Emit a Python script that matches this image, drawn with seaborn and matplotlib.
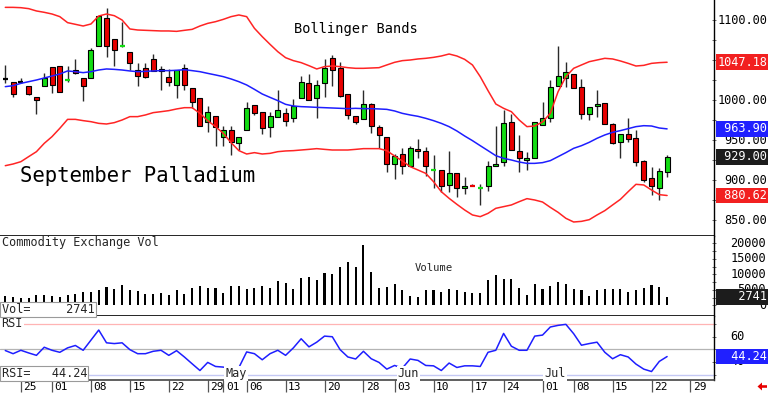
import numpy as np
import pandas as pd
import matplotlib
matplotlib.use("Agg")
import matplotlib.pyplot as plt
import matplotlib.transforms as mtransforms
from matplotlib.patches import Polygon
import seaborn as sns

# ---------------- data ----------------
holidays = ["2024-03-29", "2024-05-27", "2024-06-19", "2024-07-04"]
calendar = pd.bdate_range("2024-03-21", "2024-07-31", freq="C", holidays=holidays)

open_ = [1026, 1022, 1023, 1017, 1004, 1018, 1041, 1042, 1024, 1037,
         1027, 1027, 1068, 1102, 1076, 1066, 1060, 1037, 1040, 1051,
         1036, 1029, 1019, 1040, 1015, 1002, 973, 980, 954, 962,
         946, 962, 994, 985, 966, 979, 984, 978, 1003, 1021,
         1003, 1021, 1053, 1040, 1007, 980, 976, 995, 966, 954,
         920, 933, 917, 939, 936, 912, 912, 894, 909, 890,
         894, 889, 893, 917, 922, 973, 936, 925, 928, 969,
         978, 1017, 1027, 1033, 1016, 982, 992, 996, 970, 947,
         957, 952, 924, 902, 890, 910]
high = [1044, 1023, 1027, 1018, 1004, 1034, 1041, 1043, 1042, 1051,
        1027, 1065, 1105, 1115, 1076, 1097, 1060, 1046, 1046, 1058,
        1042, 1039, 1037, 1045, 1015, 1002, 992, 980, 967, 967,
        954, 997, 994, 985, 985, 1012, 990, 1001, 1030, 1032,
        1025, 1051, 1056, 1048, 1007, 980, 1013, 996, 969, 954,
        933, 940, 943, 951, 941, 931, 912, 936, 909, 904,
        895, 895, 924, 967, 987, 983, 956, 935, 973, 997,
        1025, 1068, 1047, 1033, 1026, 991, 1013, 996, 971, 957,
        978, 962, 925, 916, 915, 931]
low = [1021, 1004, 1021, 1006, 982, 1018, 1009, 1010, 1023, 1033,
       999, 1027, 1068, 1054, 1042, 1066, 1037, 1017, 1028, 1036,
       1012, 1017, 1002, 1013, 990, 967, 960, 943, 943, 931,
       937, 962, 981, 958, 954, 979, 967, 973, 1003, 1000,
       978, 1004, 1017, 1004, 976, 970, 976, 959, 940, 910,
       901, 908, 917, 927, 905, 890, 885, 885, 879, 882,
       892, 869, 886, 917, 917, 937, 910, 912, 927, 969,
       972, 1017, 1016, 1015, 976, 975, 979, 970, 945, 928,
       947, 918, 898, 881, 875, 904]
close = [1026, 1007, 1023, 1007, 1000, 1028, 1019, 1010, 1025, 1034,
         1018, 1062, 1105, 1067, 1062, 1067, 1046, 1030, 1029, 1036,
         1039, 1023, 1037, 1019, 998, 967, 985, 966, 963, 947,
         954, 990, 984, 965, 980, 988, 974, 992, 1022, 1000,
         1019, 1040, 1037, 1005, 981, 973, 995, 968, 956, 920,
         930, 918, 940, 936, 917, 913, 893, 909, 890, 893,
         893, 890, 917, 920, 971, 938, 927, 928, 973, 978,
         1016, 1030, 1035, 1015, 983, 991, 995, 970, 946, 957,
         951, 923, 900, 892, 911, 929]

bb_upper = [1115.8, 1115.8, 1115.4, 1114.2, 1111.3, 1109.6, 1107.5, 1104.2, 1096.7, 1094.6,
            1092.5, 1095.0, 1105.0, 1107.5, 1105.4, 1100.0, 1088.8, 1087.5, 1087.1, 1086.7,
            1086.3, 1086.3, 1085.8, 1087.1, 1088.3, 1092.5, 1095.8, 1097.9, 1100.8, 1104.2,
            1106.3, 1104.2, 1089.6, 1079.2, 1069.6, 1060.4, 1052.9, 1049.2, 1046.7, 1042.9,
            1038.8, 1041.7, 1042.5, 1041.7, 1040.4, 1039.6, 1039.6, 1040.0, 1040.4, 1043.8,
            1047.1, 1049.2, 1050.0, 1051.3, 1052.1, 1053.3, 1055.0, 1057.5, 1055.0, 1050.8,
            1043.8, 1029.2, 1011.7, 995.0, 989.6, 985.4, 975.0, 966.7, 967.5, 972.5,
            983.3, 1010.4, 1029.2, 1039.6, 1043.8, 1047.9, 1050.0, 1052.1, 1051.3, 1048.8,
            1045.8, 1042.5, 1043.3, 1045.8, 1046.7, 1047.18]
bb_middle = [1016.7, 1017.9, 1020.8, 1022.9, 1025.0, 1027.5, 1030.0, 1032.5, 1036.3, 1035.4,
             1034.2, 1035.4, 1037.5, 1038.8, 1038.3, 1037.5, 1036.3, 1035.4, 1035.8, 1036.3,
             1036.7, 1036.7, 1037.1, 1037.9, 1036.7, 1035.4, 1033.3, 1031.3, 1029.2, 1026.3,
             1022.9, 1018.8, 1013.3, 1007.5, 1003.3, 999.2, 994.6, 992.5, 991.7, 991.3,
             990.8, 990.4, 990.0, 989.6, 989.2, 989.6, 989.2, 989.2, 988.8, 988.3,
             986.3, 983.3, 981.3, 979.6, 977.1, 974.2, 970.8, 966.7, 961.3, 955.0,
             949.2, 942.9, 936.7, 930.4, 927.1, 925.0, 922.5, 920.8, 920.8, 921.7,
             924.2, 929.2, 934.2, 939.6, 942.9, 947.1, 952.1, 956.3, 959.6, 961.7,
             964.2, 966.7, 967.9, 967.5, 965.0, 963.90]
bb_lower = [917.9, 920.0, 922.9, 929.2, 935.4, 945.8, 954.2, 964.6, 975.8, 975.8,
            974.2, 972.9, 970.8, 970.0, 971.7, 975.0, 979.2, 979.2, 981.3, 984.2,
            985.4, 986.7, 988.8, 990.4, 990.4, 983.3, 974.2, 966.7, 958.3, 946.7,
            936.7, 932.5, 934.2, 932.5, 933.3, 935.4, 936.3, 936.7, 937.5, 938.3,
            939.2, 938.3, 937.5, 937.5, 937.5, 938.3, 939.2, 939.2, 939.2, 936.7,
            930.0, 923.8, 916.7, 912.5, 908.3, 897.9, 885.4, 877.1, 869.6, 862.5,
            856.3, 854.2, 858.3, 864.6, 866.7, 868.8, 872.9, 876.7, 875.0, 872.5,
            865.8, 859.6, 852.1, 847.5, 848.3, 850.4, 856.3, 861.7, 868.8, 875.8,
            885.4, 894.6, 893.8, 887.5, 881.7, 880.62]

volume = [3000, 2800, 2470, 2260, 3330, 3230, 3000, 2800, 3330, 3760,
          4300, 4300, 4950, 6020, 5160, 6450, 4840, 4620, 3550, 3550,
          4090, 3330, 4950, 3550, 5480, 6240, 5700, 5700, 4090, 6240,
          6240, 5160, 5480, 6240, 5700, 7850, 7310, 5160, 8920, 9250,
          8170, 10320, 10100, 12500, 13900, 12450, 19460, 10860, 5700, 6020,
          6770, 4950, 3010, 2690, 4840, 4840, 4410, 5160, 4950, 4300,
          3870, 4090, 8060, 9680, 8600, 8600, 5480, 3330, 6990, 5380,
          6240, 7530, 6770, 5380, 4840, 3010, 4840, 5160, 5160, 5160,
          4300, 4950, 5700, 6560, 5910, 2741]

rsi = [49.0, 46.5, 49.2, 47.1, 45.2, 51.6, 49.2, 47.6, 51.1, 53.0,
       49.2, 57.2, 65.2, 55.1, 54.5, 55.1, 49.7, 46.5, 46.5, 48.4,
       49.2, 45.2, 48.9, 43.9, 38.5, 33.2, 39.6, 36.4, 35.9, 34.5,
       35.5, 47.9, 46.5, 41.7, 46.5, 49.2, 45.2, 51.1, 58.3, 51.9,
       55.6, 60.4, 59.9, 49.7, 43.9, 42.3, 48.4, 42.5, 39.6, 34.3,
       37.2, 35.1, 42.3, 41.2, 37.2, 36.9, 33.2, 39.1, 35.6, 36.9,
       36.9, 36.4, 47.6, 49.2, 62.5, 52.4, 49.2, 49.2, 60.4, 61.2,
       67.6, 68.9, 69.7, 62.3, 53.2, 54.5, 55.6, 47.6, 42.5, 45.7,
       43.9, 38.3, 34.3, 32.4, 40.4, 44.24]

price_ticks = [850, 900, 950, 1000, 1050, 1100]
vol_ticks = [0, 5000, 10000, 15000, 20000]
rsi_ticks = [40, 60]
rsi_levels = [70, 50, 30]

# ---------------- style ----------------
sns.set_theme(style="white")
plt.rcParams["font.family"] = ["DejaVu Sans Mono", "DejaVu Sans"]

GREEN = "#12DC12"
RED = "#E80000"
BAND_RED = "#FF2424"
BLUE = "#1E1EFF"

W, H = 768, 395
fig = plt.figure(figsize=(W / 100, H / 100), dpi=100)
fig.patch.set_facecolor("white")


def rect(x0, y0, x1, y1):
    return [x0 / W, 1 - y1 / H, (x1 - x0) / W, (y1 - y0) / H]


def fx(x):
    return x / W


def fy(y):
    return 1 - y / H


ax_p = fig.add_axes(rect(0, 0, 713.5, 236))
ax_v = fig.add_axes(rect(0, 236, 713.5, 316))
ax_r = fig.add_axes(rect(0, 316, 713.5, 380))

n = len(close)
x = np.arange(n)
o = np.array(open_, float)
c = np.array(close, float)
hi = np.array(high, float)
lo = np.array(low, float)

XLIM = (-0.68, 90.96)
for ax in (ax_p, ax_v, ax_r):
    ax.set_xlim(*XLIM)
    ax.set_facecolor("white")
    ax.grid(False)
    for s in ("top", "left"):
        ax.spines[s].set_visible(False)
    ax.spines["right"].set_color("black")
    ax.spines["right"].set_linewidth(1.0)
    ax.spines["bottom"].set_color("black")
    ax.spines["bottom"].set_linewidth(1.2)
    ax.yaxis.tick_right()
    ax.tick_params(axis="y", which="both", right=True, left=False, length=3,
                   direction="inout", width=0.6, color="#555555", labelright=False)
    ax.tick_params(axis="x", bottom=False, labelbottom=False)
    ax.set_xlabel("")
    ax.set_ylabel("")

# ---------------- price panel ----------------
ax_p.set_ylim(830, 1125)
ax_p.vlines(x, lo, hi, color="#2a2a2a", lw=1.0, zorder=2)
body_lo = np.minimum(o, c)
body_hi = np.maximum(o, c)
cols = np.where(c > o, GREEN, np.where(c < o, RED, "black"))
big = (body_hi - body_lo) >= 1.5
ax_p.bar(x[big], (body_hi - body_lo)[big], bottom=body_lo[big], width=0.64,
         color=cols[big], edgecolor="black", linewidth=0.8, zorder=3)
ax_p.hlines(c[~big], x[~big] - 0.32, x[~big] + 0.32, colors=cols[~big], lw=1.6, zorder=3)

sns.lineplot(x=x, y=bb_upper, ax=ax_p, color=BAND_RED, linewidth=1.1, zorder=4)
sns.lineplot(x=x, y=bb_lower, ax=ax_p, color=BAND_RED, linewidth=1.1, zorder=4)
sns.lineplot(x=x, y=bb_middle, ax=ax_p, color=BLUE, linewidth=1.1, zorder=4)
ax_p.set_yticks(np.arange(850, 1125, 25))
ax_p.set_xlim(*XLIM)
ax_p.set_ylim(830, 1125)
ax_p.set_xlabel("")
ax_p.set_ylabel("")

ax_p.text(fx(294) / fx(713.5), fy(28.5), "", transform=ax_p.transAxes)
fig.text(fx(294), fy(28.5), "Bollinger Bands", fontsize=9.8, color="black",
         ha="left", va="center")
fig.text(fx(20), fy(176.5), "September Palladium", fontsize=14.9, color="black",
         ha="left", va="center")

tr_p = mtransforms.blended_transform_factory(fig.transFigure, ax_p.transData)
for v in price_ticks:
    ax_p.text(fx(767), v, f"{v:.2f}", transform=tr_p, ha="right", va="center",
              fontsize=8.6, color="black", clip_on=False)

box_kw = dict(boxstyle="square,pad=0.12", ec="none")
for val, fc in ((bb_upper[-1], "#F22020"), (bb_middle[-1], "#2020FF"),
                (close[-1], "#1c1c1c"), (bb_lower[-1], "#F22020")):
    ax_p.text(fx(767), val, f"{val:7.2f}", transform=tr_p, ha="right", va="center",
              fontsize=8.6, color="white", clip_on=False, zorder=10,
              bbox=dict(fc=fc, **box_kw))

# ---------------- volume panel ----------------
ax_v.bar(x, volume, width=0.27, color="black", linewidth=0, zorder=2)
ax_v.set_ylim(-3450, 22350)
ax_v.set_yticks(np.arange(0, 22500, 2500))
tr_v = mtransforms.blended_transform_factory(fig.transFigure, ax_v.transData)
for v in vol_ticks:
    ax_v.text(fx(766), v, f"{v}", transform=tr_v, ha="right", va="center",
              fontsize=8.6, color="black", clip_on=False)
ax_v.text(fx(767), volume[-1], f"{volume[-1]:7d}", transform=tr_v, ha="right",
          va="center", fontsize=8.6, color="white", clip_on=False, zorder=10,
          bbox=dict(fc="#1c1c1c", **box_kw))
fig.text(fx(2), fy(242.5), "Commodity Exchange Vol", fontsize=8.6, ha="left", va="center")
fig.text(fx(415), fy(268), "Volume", fontsize=7.6, ha="left", va="center")
fig.text(fx(1.5), fy(309.5), f"Vol=     {volume[-1]}", fontsize=8.6, ha="left",
         va="center", zorder=10,
         bbox=dict(boxstyle="square,pad=0.12", fc="white", ec="#9a9a9a", lw=0.8))

# ---------------- RSI panel ----------------
ax_r.set_ylim(25.7, 76.3)
ax_r.axhline(rsi_levels[0], color="#FFB4B4", lw=0.9, zorder=1)
ax_r.axhline(rsi_levels[1], color="#B4B4B4", lw=0.9, zorder=1)
ax_r.axhline(rsi_levels[2], color="#C4C8F4", lw=1.0, zorder=1)
sns.lineplot(x=x, y=rsi, ax=ax_r, color=BLUE, linewidth=1.1, zorder=3)
ax_r.set_xlim(*XLIM)
ax_r.set_ylim(25.7, 76.3)
ax_r.set_yticks(np.arange(30, 80, 10))
ax_r.set_xlabel("")
ax_r.set_ylabel("")
ax_r.spines["bottom"].set_color("#444444")
tr_r = mtransforms.blended_transform_factory(fig.transFigure, ax_r.transData)
for v in rsi_ticks:
    ax_r.text(fx(730), v, f"{v}", transform=tr_r, ha="left", va="center",
              fontsize=8.6, color="black", clip_on=False)
ax_r.text(fx(767), rsi[-1], f"{rsi[-1]:7.2f}", transform=tr_r, ha="right",
          va="center", fontsize=8.6, color="white", clip_on=False, zorder=10,
          bbox=dict(fc="#2020FF", **box_kw))
ax_r.text(0.002, fy(323.5), "RSI", transform=mtransforms.blended_transform_factory(
    ax_r.transAxes, fig.transFigure), fontsize=8.6, ha="left", va="center", zorder=6,
    bbox=dict(boxstyle="square,pad=0.1", fc="white", ec="none"))
fig.text(fx(1.5), fy(373.5), f"RSI=   {rsi[-1]:.2f}", fontsize=8.6, ha="left",
         va="center", zorder=10,
         bbox=dict(boxstyle="square,pad=0.12", fc="white", ec="#9a9a9a", lw=0.8))

# month labels on the RSI panel
dates = calendar[:n]
all_days = calendar
month_pos = {}
for i, d in enumerate(all_days):
    key = d.strftime("%b")
    if i > 0 and key not in month_pos and d.month != all_days[0].month:
        month_pos[key] = i
tr_m = mtransforms.blended_transform_factory(ax_r.transData, fig.transFigure)
month_shift = {"Apr": None, "May": 0.3, "Jun": 0.4, "Jul": 0.2}
for key, i in month_pos.items():
    if month_shift.get(key) is None:
        continue
    ax_r.text(i + month_shift[key], fy(373.5), key, transform=tr_m, ha="left",
              va="center", fontsize=8.6, zorder=6,
              bbox=dict(boxstyle="square,pad=0.1", fc="white", ec="none"))

# ---------------- date axis ----------------
tick_idx = []
tick_lab = []
prev = None
for i, d in enumerate(all_days):
    new_week = prev is None or d.weekday() < prev.weekday() or (d - prev).days > 3
    new_month = prev is not None and d.month != prev.month
    if i > 0 and (new_week or new_month):
        tick_idx.append(i)
        tick_lab.append(d.strftime("%d"))
    prev = d
ax_r.set_xticks(tick_idx)
ax_r.tick_params(axis="x", bottom=True, labelbottom=False, length=8.4, width=0.9,
                 direction="out", color="#555555")
tr_d = mtransforms.offset_copy(
    mtransforms.blended_transform_factory(ax_r.transData, fig.transFigure),
    fig=fig, x=2.5, y=0, units="dots")
for i, lab in zip(tick_idx, tick_lab):
    ax_r.text(i, fy(387.5), lab, transform=tr_d, ha="left", va="center",
              fontsize=8.0, color="black", clip_on=False)

# small red arrow at bottom right
arrow = Polygon([[fx(757.5), fy(386.5)], [fx(762), fy(382.5)], [fx(762), fy(385.2)],
                 [fx(767), fy(385.2)], [fx(767), fy(387.8)], [fx(762), fy(387.8)],
                 [fx(762), fy(390.5)]], closed=True, transform=fig.transFigure,
                fc="#E80000", ec="none")
fig.patches.append(arrow)

fig.savefig("out.png", dpi=100, facecolor="white")
